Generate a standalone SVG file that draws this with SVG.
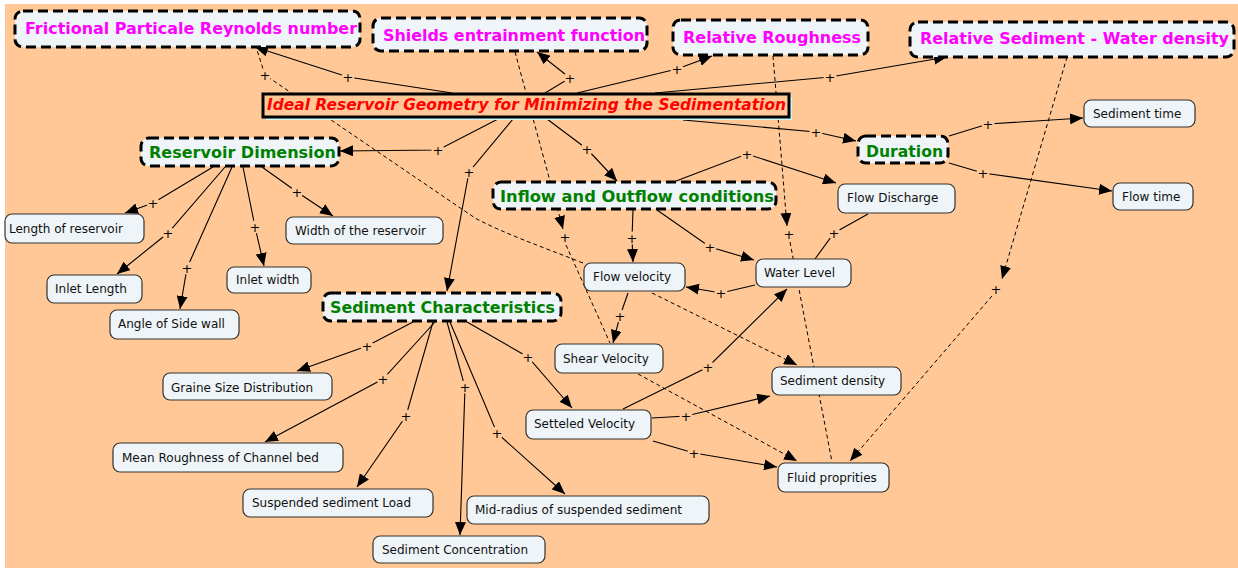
<svg xmlns="http://www.w3.org/2000/svg" width="1238" height="570" viewBox="0 0 1238 570">
<style>
.bg{fill:#FFC896}
.n{fill:#EEF4F7;stroke:#333;stroke-width:1.2}
.d{fill:#EEF4F7;stroke:#000;stroke-width:3;stroke-dasharray:10,5}
.t{font-family:"DejaVu Sans",Verdana,sans-serif;font-size:12px;fill:#111}
.m{font-family:"DejaVu Sans",Verdana,sans-serif;font-size:16px;font-weight:bold;fill:#FF00FF}
.g{font-family:"DejaVu Sans",Verdana,sans-serif;font-size:16px;font-weight:bold;fill:#008000}
.r{font-family:"DejaVu Sans",Verdana,sans-serif;font-size:15px;font-weight:bold;font-style:italic;fill:#FF0000}
.s{fill:none;stroke:#000;stroke-width:1.1}
.a{marker-end:url(#ah)}
.k{fill:none;stroke:#000;stroke-width:1;stroke-dasharray:4,3}
.pb{fill:#FFC896}
.p{font-family:"DejaVu Sans",Verdana,sans-serif;font-size:13px;fill:#000;text-anchor:middle}
</style>
<defs>
<marker id="ah" markerUnits="userSpaceOnUse" markerWidth="13" markerHeight="11" refX="13" refY="5.5" orient="auto"><path d="M0,0 L13,5.5 L0,11 z" fill="#000"/></marker>
</defs>
<rect x="0" y="0" width="1238" height="570" fill="#fff"/>
<rect class="bg" x="5" y="4" width="1233" height="564"/>
<g id="connectors">
<path class="s a" d="M452,93 L348,77 L255,47"/>
<path class="s a" d="M545,93 L570,78 L537,52"/>
<path class="s a" d="M577,93 L677,69 L712,56"/>
<path class="s a" d="M655,93 L830,77 L947,57"/>
<path class="s a" d="M498,119 L438,150 L340,151"/>
<path class="s a" d="M513,119 L469,172 L447,291"/>
<path class="s a" d="M547,119 L587,149 L617,181"/>
<path class="s a" d="M683,120 L816,132 L856,141"/>
<path class="s a" d="M213,167 L153,203 L125,213"/>
<path class="s a" d="M225,167 L168,233 L117,274"/>
<path class="s a" d="M232,167 L187,268 L180,309"/>
<path class="s a" d="M243,167 L255,227 L264,266"/>
<path class="s a" d="M262,167 L297,192 L333,216"/>
<path class="s a" d="M413,322 L367,346 L297,371"/>
<path class="s a" d="M435,322 L383,379 L265,442"/>
<path class="s a" d="M433,322 L406,416 L357,487"/>
<path class="s a" d="M447,322 L465,387 L460,535"/>
<path class="s a" d="M450,322 L497,433 L565,494"/>
<path class="s a" d="M467,322 L528,357 L572,408"/>
<path class="s a" d="M633,210 L632,238 L633,262"/>
<path class="s a" d="M657,210 L710,247 L754,260"/>
<path class="s a" d="M676,181 L747,154 L836,183"/>
<path class="s" d="M868,214 L834,233 L815,259"/>
<path class="s a" d="M755,285 L721,293 L686,287"/>
<path class="s a" d="M623,409 L708,367 L787,289"/>
<path class="s a" d="M652,418 L686,416 L770,396"/>
<path class="s a" d="M653,441 L694,453 L777,467"/>
<path class="s a" d="M628,293 L620,316 L613,343"/>
<path class="s a" d="M949,136 L988,124 L1083,118"/>
<path class="s a" d="M949,163 L983,173 L1112,191"/>
<path class="k" d="M583,263 C540,246 505,234 475,218 L265,75 L257,50"/>
<path class="k a" d="M515,52 L563,229"/>
<path class="k" d="M566,245 L610,343"/>
<path class="k a" d="M773,56 L787,226"/>
<path class="k" d="M790,242 L832,462"/>
<path class="k a" d="M1067,57 L1002,279"/>
<path class="k a" d="M992,296 L850,461"/>
<path class="k a" d="M652,293 L797,365"/>
<path class="k a" d="M638,374 L797,461"/>
<g id="labels">
<circle class="pb" cx="348" cy="77" r="6.5"/><circle class="pb" cx="570" cy="78" r="6.5"/><circle class="pb" cx="677" cy="69" r="6.5"/><circle class="pb" cx="830" cy="77" r="6.5"/><circle class="pb" cx="438" cy="150" r="6.5"/><circle class="pb" cx="469" cy="172" r="6.5"/><circle class="pb" cx="587" cy="149" r="6.5"/><circle class="pb" cx="816" cy="132" r="6.5"/><circle class="pb" cx="153" cy="203" r="6.5"/><circle class="pb" cx="168" cy="233" r="6.5"/><circle class="pb" cx="187" cy="268" r="6.5"/><circle class="pb" cx="255" cy="227" r="6.5"/><circle class="pb" cx="297" cy="192" r="6.5"/><circle class="pb" cx="367" cy="346" r="6.5"/><circle class="pb" cx="383" cy="379" r="6.5"/><circle class="pb" cx="406" cy="416" r="6.5"/><circle class="pb" cx="465" cy="387" r="6.5"/><circle class="pb" cx="497" cy="433" r="6.5"/><circle class="pb" cx="528" cy="357" r="6.5"/><circle class="pb" cx="632" cy="238" r="6.5"/><circle class="pb" cx="710" cy="247" r="6.5"/><circle class="pb" cx="747" cy="154" r="6.5"/><circle class="pb" cx="834" cy="233" r="6.5"/><circle class="pb" cx="721" cy="293" r="6.5"/><circle class="pb" cx="708" cy="367" r="6.5"/><circle class="pb" cx="686" cy="416" r="6.5"/><circle class="pb" cx="694" cy="453" r="6.5"/><circle class="pb" cx="620" cy="316" r="6.5"/><circle class="pb" cx="988" cy="124" r="6.5"/><circle class="pb" cx="983" cy="173" r="6.5"/><circle class="pb" cx="265" cy="75" r="6.5"/><circle class="pb" cx="565" cy="237" r="6.5"/><circle class="pb" cx="789" cy="234" r="6.5"/><circle class="pb" cx="996" cy="289" r="6.5"/>
<text class="p" x="348" y="81.5">+</text><text class="p" x="570" y="82.5">+</text><text class="p" x="677" y="73.5">+</text><text class="p" x="830" y="81.5">+</text><text class="p" x="438" y="154.5">+</text><text class="p" x="469" y="176.5">+</text><text class="p" x="587" y="153.5">+</text><text class="p" x="816" y="136.5">+</text><text class="p" x="153" y="207.5">+</text><text class="p" x="168" y="237.5">+</text><text class="p" x="187" y="272.5">+</text><text class="p" x="255" y="231.5">+</text><text class="p" x="297" y="196.5">+</text><text class="p" x="367" y="350.5">+</text><text class="p" x="383" y="383.5">+</text><text class="p" x="406" y="420.5">+</text><text class="p" x="465" y="391.5">+</text><text class="p" x="497" y="437.5">+</text><text class="p" x="528" y="361.5">+</text><text class="p" x="632" y="242.5">+</text><text class="p" x="710" y="251.5">+</text><text class="p" x="747" y="158.5">+</text><text class="p" x="834" y="237.5">+</text><text class="p" x="721" y="297.5">+</text><text class="p" x="708" y="371.5">+</text><text class="p" x="686" y="420.5">+</text><text class="p" x="694" y="457.5">+</text><text class="p" x="620" y="320.5">+</text><text class="p" x="988" y="128.5">+</text><text class="p" x="983" y="177.5">+</text><text class="p" x="265" y="79.5">+</text><text class="p" x="565" y="241.5">+</text><text class="p" x="789" y="238.5">+</text><text class="p" x="996" y="293.5">+</text>
</g>
</g>
<g id="main"><rect x="266" y="97" width="526" height="23" fill="#CCF7F7"/><rect x="263" y="94" width="526" height="23" fill="#FFC896" stroke="#000" stroke-width="3"/><text class="r" x="267" y="110" textLength="519" lengthAdjust="spacingAndGlyphs">Ideal Reservoir Geometry for Minimizing the Sedimentation</text></g>
<g id="frictional"><rect class="d" x="15" y="11" width="345" height="36" rx="8"/><text class="m" x="25" y="34" textLength="332" lengthAdjust="spacingAndGlyphs">Frictional Particale Reynolds number</text></g>
<g id="shields"><rect class="d" x="373" y="18" width="274" height="33" rx="8"/><text class="m" x="383" y="41" textLength="262" lengthAdjust="spacingAndGlyphs">Shields entrainment function</text></g>
<g id="relrough"><rect class="d" x="673" y="20" width="195" height="35" rx="8"/><text class="m" x="683" y="43" textLength="178" lengthAdjust="spacingAndGlyphs">Relative Roughness</text></g>
<g id="relsed"><rect class="d" x="910" y="22" width="324" height="35" rx="8"/><text class="m" x="920" y="44" textLength="309" lengthAdjust="spacingAndGlyphs">Relative Sediment - Water density</text></g>
<g id="resdim"><rect class="d" x="141" y="138" width="198" height="28" rx="8"/><text class="g" x="149" y="158" textLength="187" lengthAdjust="spacingAndGlyphs">Reservoir Dimension</text></g>
<g id="duration"><rect class="d" x="858" y="136" width="90" height="27" rx="8"/><text class="g" x="866" y="157" textLength="77" lengthAdjust="spacingAndGlyphs">Duration</text></g>
<g id="inflow"><rect class="d" x="493" y="182" width="283" height="27" rx="8"/><text class="g" x="500" y="202" textLength="274" lengthAdjust="spacingAndGlyphs">Inflow and Outflow conditions</text></g>
<g id="sedchar"><rect class="d" x="323" y="293" width="238" height="28" rx="8"/><text class="g" x="330" y="313" textLength="225" lengthAdjust="spacingAndGlyphs">Sediment Characteristics</text></g>
<g id="sedtime"><rect class="n" x="1084" y="100" width="111" height="27" rx="7"/><text class="t" x="1093" y="118">Sediment time</text></g>
<g id="flowtime"><rect class="n" x="1113" y="183" width="80" height="27" rx="7"/><text class="t" x="1122" y="201">Flow time</text></g>
<g id="flowdis"><rect class="n" x="838" y="184" width="117" height="29" rx="7"/><text class="t" x="847" y="202">Flow Discharge</text></g>
<g id="length"><rect class="n" x="5" y="214" width="139" height="29" rx="7"/><text class="t" x="9" y="233">Length of reservoir</text></g>
<g id="width"><rect class="n" x="286" y="217" width="157" height="27" rx="7"/><text class="t" x="295" y="235">Width of the reservoir</text></g>
<g id="inletlen"><rect class="n" x="47" y="275" width="95" height="28" rx="7"/><text class="t" x="55" y="293">Inlet Length</text></g>
<g id="inletwid"><rect class="n" x="227" y="267" width="84" height="26" rx="7"/><text class="t" x="236" y="284">Inlet width</text></g>
<g id="angle"><rect class="n" x="110" y="310" width="129" height="29" rx="7"/><text class="t" x="118" y="328">Angle of Side wall</text></g>
<g id="flowvel"><rect class="n" x="584" y="263" width="101" height="28" rx="7"/><text class="t" x="593" y="281">Flow velocity</text></g>
<g id="water"><rect class="n" x="756" y="259" width="95" height="28" rx="7"/><text class="t" x="764" y="277">Water Level</text></g>
<g id="shear"><rect class="n" x="555" y="344" width="108" height="29" rx="7"/><text class="t" x="563" y="363">Shear Velocity</text></g>
<g id="seddens"><rect class="n" x="772" y="367" width="129" height="28" rx="7"/><text class="t" x="780" y="385">Sediment density</text></g>
<g id="settled"><rect class="n" x="526" y="410" width="125" height="29" rx="7"/><text class="t" x="534" y="428">Setteled Velocity</text></g>
<g id="fluid"><rect class="n" x="778" y="463" width="111" height="29" rx="7"/><text class="t" x="787" y="482">Fluid proprities</text></g>
<g id="graine"><rect class="n" x="163" y="373" width="169" height="27" rx="7"/><text class="t" x="171" y="392">Graine Size Distribution</text></g>
<g id="meanrough"><rect class="n" x="113" y="443" width="230" height="29" rx="7"/><text class="t" x="122" y="462">Mean Roughness of Channel bed</text></g>
<g id="suspload"><rect class="n" x="243" y="489" width="190" height="28" rx="7"/><text class="t" x="252" y="507">Suspended sediment Load</text></g>
<g id="midradius"><rect class="n" x="467" y="496" width="242" height="28" rx="7"/><text class="t" x="475" y="514">Mid-radius of suspended sediment</text></g>
<g id="sedconc"><rect class="n" x="373" y="536" width="172" height="27" rx="7"/><text class="t" x="382" y="554">Sediment Concentration</text></g>
</svg>
